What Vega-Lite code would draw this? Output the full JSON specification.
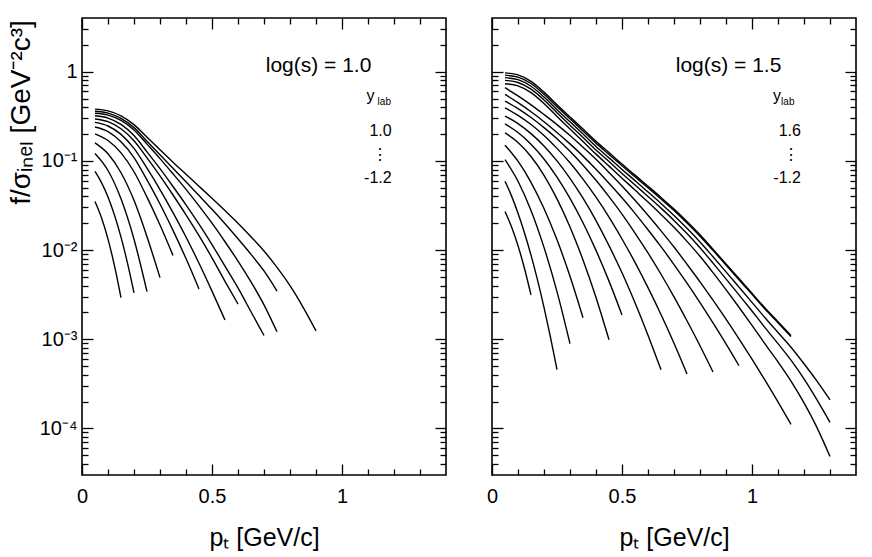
{
  "$schema": "https://vega.github.io/schema/vega-lite/v6.json",
  "padding": {"left": 6, "top": 16, "right": 10, "bottom": 0},
  "spacing": 46,
  "bounds": "flush",
  "config": {
    "view": {"stroke": "black", "strokeWidth": 1.6},
    "axis": {"tickColor": "black", "labelColor": "black", "titleColor": "black", "labelFont": "Liberation Sans", "titleFont": "Liberation Sans", "tickWidth": 1.3, "domain": false, "grid": false, "titleFontWeight": "normal"},
    "text": {"font": "Liberation Sans", "color": "black"}
  },
  "datasets": {
    "curves": [
      {"panel":"L","curve":1,"pt":0.05,"f":0.035},{"panel":"L","curve":1,"pt":0.075,"f":0.023},{"panel":"L","curve":1,"pt":0.1,"f":0.01327},{"panel":"L","curve":1,"pt":0.125,"f":0.00664},{"panel":"L","curve":1,"pt":0.15,"f":0.00292},
      {"panel":"L","curve":2,"pt":0.05,"f":0.076},{"panel":"L","curve":2,"pt":0.075,"f":0.0571},{"panel":"L","curve":2,"pt":0.1,"f":0.0394},{"panel":"L","curve":2,"pt":0.15,"f":0.01396},{"panel":"L","curve":2,"pt":0.175,"f":0.00713},{"panel":"L","curve":2,"pt":0.2,"f":0.00331},
      {"panel":"L","curve":3,"pt":0.05,"f":0.121},{"panel":"L","curve":3,"pt":0.1,"f":0.078},{"panel":"L","curve":3,"pt":0.15,"f":0.0375},{"panel":"L","curve":3,"pt":0.2,"f":0.0132},{"panel":"L","curve":3,"pt":0.25,"f":0.00341},
      {"panel":"L","curve":4,"pt":0.05,"f":0.159},{"panel":"L","curve":4,"pt":0.1,"f":0.12},{"panel":"L","curve":4,"pt":0.15,"f":0.0736},{"panel":"L","curve":4,"pt":0.2,"f":0.0361},{"panel":"L","curve":4,"pt":0.25,"f":0.0141},{"panel":"L","curve":4,"pt":0.3,"f":0.0049},
      {"panel":"L","curve":5,"pt":0.05,"f":0.201},{"panel":"L","curve":5,"pt":0.1,"f":0.169},{"panel":"L","curve":5,"pt":0.15,"f":0.123},{"panel":"L","curve":5,"pt":0.2,"f":0.0755},{"panel":"L","curve":5,"pt":0.25,"f":0.0392},{"panel":"L","curve":5,"pt":0.3,"f":0.0191},{"panel":"L","curve":5,"pt":0.35,"f":0.00871},
      {"panel":"L","curve":6,"pt":0.05,"f":0.24},{"panel":"L","curve":6,"pt":0.1,"f":0.213},{"panel":"L","curve":6,"pt":0.15,"f":0.164},{"panel":"L","curve":6,"pt":0.2,"f":0.109},{"panel":"L","curve":6,"pt":0.25,"f":0.0612},{"panel":"L","curve":6,"pt":0.3,"f":0.0328},{"panel":"L","curve":6,"pt":0.35,"f":0.0166},{"panel":"L","curve":6,"pt":0.4,"f":0.00802},{"panel":"L","curve":6,"pt":0.45,"f":0.00366},
      {"panel":"L","curve":7,"pt":0.05,"f":0.27},{"panel":"L","curve":7,"pt":0.1,"f":0.246},{"panel":"L","curve":7,"pt":0.15,"f":0.198},{"panel":"L","curve":7,"pt":0.2,"f":0.138},{"panel":"L","curve":7,"pt":0.25,"f":0.0828},{"panel":"L","curve":7,"pt":0.3,"f":0.0477},{"panel":"L","curve":7,"pt":0.35,"f":0.0263},{"panel":"L","curve":7,"pt":0.4,"f":0.014},{"panel":"L","curve":7,"pt":0.45,"f":0.00711},{"panel":"L","curve":7,"pt":0.5,"f":0.00346},{"panel":"L","curve":7,"pt":0.55,"f":0.00164},
      {"panel":"L","curve":8,"pt":0.05,"f":0.295},{"panel":"L","curve":8,"pt":0.1,"f":0.275},{"panel":"L","curve":8,"pt":0.15,"f":0.229},{"panel":"L","curve":8,"pt":0.2,"f":0.168},{"panel":"L","curve":8,"pt":0.25,"f":0.108},{"panel":"L","curve":8,"pt":0.3,"f":0.0679},{"panel":"L","curve":8,"pt":0.35,"f":0.0414},{"panel":"L","curve":8,"pt":0.4,"f":0.0248},{"panel":"L","curve":8,"pt":0.45,"f":0.0145},{"panel":"L","curve":8,"pt":0.5,"f":0.00818},{"panel":"L","curve":8,"pt":0.55,"f":0.00446},{"panel":"L","curve":8,"pt":0.6,"f":0.00248},
      {"panel":"L","curve":9,"pt":0.05,"f":0.32},{"panel":"L","curve":9,"pt":0.1,"f":0.302},{"panel":"L","curve":9,"pt":0.15,"f":0.256},{"panel":"L","curve":9,"pt":0.2,"f":0.192},{"panel":"L","curve":9,"pt":0.25,"f":0.126},{"panel":"L","curve":9,"pt":0.3,"f":0.0818},{"panel":"L","curve":9,"pt":0.35,"f":0.0516},{"panel":"L","curve":9,"pt":0.4,"f":0.0321},{"panel":"L","curve":9,"pt":0.45,"f":0.0195},{"panel":"L","curve":9,"pt":0.5,"f":0.01153},{"panel":"L","curve":9,"pt":0.55,"f":0.00659},{"panel":"L","curve":9,"pt":0.6,"f":0.00376},{"panel":"L","curve":9,"pt":0.65,"f":0.00203},{"panel":"L","curve":9,"pt":0.7,"f":0.0011},
      {"panel":"L","curve":10,"pt":0.05,"f":0.342},{"panel":"L","curve":10,"pt":0.1,"f":0.326},{"panel":"L","curve":10,"pt":0.15,"f":0.284},{"panel":"L","curve":10,"pt":0.2,"f":0.222},{"panel":"L","curve":10,"pt":0.25,"f":0.154},{"panel":"L","curve":10,"pt":0.3,"f":0.106},{"panel":"L","curve":10,"pt":0.35,"f":0.0716},{"panel":"L","curve":10,"pt":0.4,"f":0.0479},{"panel":"L","curve":10,"pt":0.45,"f":0.0313},{"panel":"L","curve":10,"pt":0.5,"f":0.02},{"panel":"L","curve":10,"pt":0.55,"f":0.01239},{"panel":"L","curve":10,"pt":0.6,"f":0.00752},{"panel":"L","curve":10,"pt":0.65,"f":0.00439},{"panel":"L","curve":10,"pt":0.7,"f":0.00243},{"panel":"L","curve":10,"pt":0.75,"f":0.00121},
      {"panel":"L","curve":11,"pt":0.05,"f":0.36},{"panel":"L","curve":11,"pt":0.1,"f":0.343},{"panel":"L","curve":11,"pt":0.15,"f":0.299},{"panel":"L","curve":11,"pt":0.2,"f":0.236},{"panel":"L","curve":11,"pt":0.25,"f":0.166},{"panel":"L","curve":11,"pt":0.3,"f":0.117},{"panel":"L","curve":11,"pt":0.35,"f":0.0824},{"panel":"L","curve":11,"pt":0.4,"f":0.0582},{"panel":"L","curve":11,"pt":0.45,"f":0.0409},{"panel":"L","curve":11,"pt":0.5,"f":0.0286},{"panel":"L","curve":11,"pt":0.55,"f":0.0197},{"panel":"L","curve":11,"pt":0.6,"f":0.01337},{"panel":"L","curve":11,"pt":0.65,"f":0.00895},{"panel":"L","curve":11,"pt":0.7,"f":0.00583},{"panel":"L","curve":11,"pt":0.75,"f":0.00347},
      {"panel":"L","curve":12,"pt":0.05,"f":0.38},{"panel":"L","curve":12,"pt":0.1,"f":0.363},{"panel":"L","curve":12,"pt":0.15,"f":0.32},{"panel":"L","curve":12,"pt":0.2,"f":0.255},{"panel":"L","curve":12,"pt":0.25,"f":0.184},{"panel":"L","curve":12,"pt":0.3,"f":0.133},{"panel":"L","curve":12,"pt":0.35,"f":0.0966},{"panel":"L","curve":12,"pt":0.4,"f":0.0708},{"panel":"L","curve":12,"pt":0.45,"f":0.0519},{"panel":"L","curve":12,"pt":0.5,"f":0.038},{"panel":"L","curve":12,"pt":0.55,"f":0.0277},{"panel":"L","curve":12,"pt":0.6,"f":0.02},{"panel":"L","curve":12,"pt":0.65,"f":0.0141},{"panel":"L","curve":12,"pt":0.7,"f":0.00977},{"panel":"L","curve":12,"pt":0.75,"f":0.00638},{"panel":"L","curve":12,"pt":0.8,"f":0.00398},{"panel":"L","curve":12,"pt":0.85,"f":0.00229},{"panel":"L","curve":12,"pt":0.9,"f":0.00124},

      {"panel":"R","curve":1,"pt":0.05,"f":0.0271},{"panel":"R","curve":1,"pt":0.075,"f":0.0183},{"panel":"R","curve":1,"pt":0.1,"f":0.0112},{"panel":"R","curve":1,"pt":0.125,"f":0.00621},{"panel":"R","curve":1,"pt":0.15,"f":0.00313},
      {"panel":"R","curve":2,"pt":0.05,"f":0.059},{"panel":"R","curve":2,"pt":0.075,"f":0.0405},{"panel":"R","curve":2,"pt":0.1,"f":0.0259},{"panel":"R","curve":2,"pt":0.15,"f":0.00877},{"panel":"R","curve":2,"pt":0.2,"f":0.00228},{"panel":"R","curve":2,"pt":0.225,"f":0.00105},{"panel":"R","curve":2,"pt":0.25,"f":0.000457},
      {"panel":"R","curve":3,"pt":0.05,"f":0.103},{"panel":"R","curve":3,"pt":0.1,"f":0.059},{"panel":"R","curve":3,"pt":0.15,"f":0.0278},{"panel":"R","curve":3,"pt":0.2,"f":0.0107},{"panel":"R","curve":3,"pt":0.25,"f":0.00342},{"panel":"R","curve":3,"pt":0.3,"f":0.000891},
      {"panel":"R","curve":4,"pt":0.05,"f":0.15},{"panel":"R","curve":4,"pt":0.1,"f":0.0991},{"panel":"R","curve":4,"pt":0.15,"f":0.0575},{"panel":"R","curve":4,"pt":0.2,"f":0.0292},{"panel":"R","curve":4,"pt":0.25,"f":0.013},{"panel":"R","curve":4,"pt":0.3,"f":0.00508},{"panel":"R","curve":4,"pt":0.35,"f":0.00174},
      {"panel":"R","curve":5,"pt":0.05,"f":0.206},{"panel":"R","curve":5,"pt":0.1,"f":0.161},{"panel":"R","curve":5,"pt":0.15,"f":0.112},{"panel":"R","curve":5,"pt":0.2,"f":0.0689},{"panel":"R","curve":5,"pt":0.25,"f":0.0375},{"panel":"R","curve":5,"pt":0.3,"f":0.0181},{"panel":"R","curve":5,"pt":0.35,"f":0.00774},{"panel":"R","curve":5,"pt":0.4,"f":0.00294},{"panel":"R","curve":5,"pt":0.45,"f":0.000986},
      {"panel":"R","curve":6,"pt":0.05,"f":0.26},{"panel":"R","curve":6,"pt":0.1,"f":0.208},{"panel":"R","curve":6,"pt":0.15,"f":0.154},{"panel":"R","curve":6,"pt":0.2,"f":0.105},{"panel":"R","curve":6,"pt":0.25,"f":0.0656},{"panel":"R","curve":6,"pt":0.3,"f":0.0379},{"panel":"R","curve":6,"pt":0.35,"f":0.0202},{"panel":"R","curve":6,"pt":0.4,"f":0.00991},{"panel":"R","curve":6,"pt":0.45,"f":0.00448},{"panel":"R","curve":6,"pt":0.5,"f":0.00187},
      {"panel":"R","curve":7,"pt":0.05,"f":0.318},{"panel":"R","curve":7,"pt":0.1,"f":0.262},{"panel":"R","curve":7,"pt":0.15,"f":0.202},{"panel":"R","curve":7,"pt":0.2,"f":0.147},{"panel":"R","curve":7,"pt":0.25,"f":0.0998},{"panel":"R","curve":7,"pt":0.3,"f":0.0637},{"panel":"R","curve":7,"pt":0.35,"f":0.0381},{"panel":"R","curve":7,"pt":0.4,"f":0.0214},{"panel":"R","curve":7,"pt":0.45,"f":0.0112},{"panel":"R","curve":7,"pt":0.5,"f":0.00555},{"panel":"R","curve":7,"pt":0.55,"f":0.00256},{"panel":"R","curve":7,"pt":0.6,"f":0.00111},{"panel":"R","curve":7,"pt":0.65,"f":0.000454},
      {"panel":"R","curve":8,"pt":0.05,"f":0.394},{"panel":"R","curve":8,"pt":0.1,"f":0.324},{"panel":"R","curve":8,"pt":0.15,"f":0.256},{"panel":"R","curve":8,"pt":0.2,"f":0.193},{"panel":"R","curve":8,"pt":0.25,"f":0.138},{"panel":"R","curve":8,"pt":0.3,"f":0.0951},{"panel":"R","curve":8,"pt":0.35,"f":0.0624},{"panel":"R","curve":8,"pt":0.4,"f":0.0391},{"panel":"R","curve":8,"pt":0.45,"f":0.0234},{"panel":"R","curve":8,"pt":0.5,"f":0.0133},{"panel":"R","curve":8,"pt":0.55,"f":0.00728},{"panel":"R","curve":8,"pt":0.6,"f":0.00379},{"panel":"R","curve":8,"pt":0.65,"f":0.00189},{"panel":"R","curve":8,"pt":0.7,"f":0.000899},{"panel":"R","curve":8,"pt":0.75,"f":0.000408},
      {"panel":"R","curve":9,"pt":0.05,"f":0.468},{"panel":"R","curve":9,"pt":0.1,"f":0.385},{"panel":"R","curve":9,"pt":0.15,"f":0.306},{"panel":"R","curve":9,"pt":0.2,"f":0.236},{"panel":"R","curve":9,"pt":0.25,"f":0.177},{"panel":"R","curve":9,"pt":0.3,"f":0.128},{"panel":"R","curve":9,"pt":0.35,"f":0.0893},{"panel":"R","curve":9,"pt":0.4,"f":0.0605},{"panel":"R","curve":9,"pt":0.45,"f":0.0397},{"panel":"R","curve":9,"pt":0.5,"f":0.0253},{"panel":"R","curve":9,"pt":0.55,"f":0.0155},{"panel":"R","curve":9,"pt":0.6,"f":0.00927},{"panel":"R","curve":9,"pt":0.65,"f":0.00535},{"panel":"R","curve":9,"pt":0.7,"f":0.00299},{"panel":"R","curve":9,"pt":0.75,"f":0.00161},{"panel":"R","curve":9,"pt":0.8,"f":0.000845},{"panel":"R","curve":9,"pt":0.85,"f":0.000429},
      {"panel":"R","curve":10,"pt":0.05,"f":0.557},{"panel":"R","curve":10,"pt":0.1,"f":0.449},{"panel":"R","curve":10,"pt":0.15,"f":0.355},{"panel":"R","curve":10,"pt":0.2,"f":0.275},{"panel":"R","curve":10,"pt":0.25,"f":0.208},{"panel":"R","curve":10,"pt":0.3,"f":0.155},{"panel":"R","curve":10,"pt":0.35,"f":0.113},{"panel":"R","curve":10,"pt":0.4,"f":0.0804},{"panel":"R","curve":10,"pt":0.45,"f":0.0561},{"panel":"R","curve":10,"pt":0.5,"f":0.0385},{"panel":"R","curve":10,"pt":0.55,"f":0.0258},{"panel":"R","curve":10,"pt":0.6,"f":0.0169},{"panel":"R","curve":10,"pt":0.65,"f":0.0109},{"panel":"R","curve":10,"pt":0.7,"f":0.00687},{"panel":"R","curve":10,"pt":0.75,"f":0.00425},{"panel":"R","curve":10,"pt":0.8,"f":0.00257},{"panel":"R","curve":10,"pt":0.85,"f":0.00152},{"panel":"R","curve":10,"pt":0.9,"f":0.000885},{"panel":"R","curve":10,"pt":0.95,"f":0.000504},
      {"panel":"R","curve":11,"pt":0.05,"f":0.661},{"panel":"R","curve":11,"pt":0.1,"f":0.535},{"panel":"R","curve":11,"pt":0.15,"f":0.425},{"panel":"R","curve":11,"pt":0.2,"f":0.331},{"panel":"R","curve":11,"pt":0.25,"f":0.255},{"panel":"R","curve":11,"pt":0.3,"f":0.192},{"panel":"R","curve":11,"pt":0.35,"f":0.142},{"panel":"R","curve":11,"pt":0.4,"f":0.104},{"panel":"R","curve":11,"pt":0.45,"f":0.0741},{"panel":"R","curve":11,"pt":0.5,"f":0.0522},{"panel":"R","curve":11,"pt":0.55,"f":0.0361},{"panel":"R","curve":11,"pt":0.6,"f":0.0245},{"panel":"R","curve":11,"pt":0.65,"f":0.0164},{"panel":"R","curve":11,"pt":0.7,"f":0.0108},{"panel":"R","curve":11,"pt":0.75,"f":0.00693},{"panel":"R","curve":11,"pt":0.8,"f":0.0044},{"panel":"R","curve":11,"pt":0.85,"f":0.00274},{"panel":"R","curve":11,"pt":0.9,"f":0.00168},{"panel":"R","curve":11,"pt":0.95,"f":0.00101},{"panel":"R","curve":11,"pt":1.0,"f":0.000597},{"panel":"R","curve":11,"pt":1.05,"f":0.000347},{"panel":"R","curve":11,"pt":1.1,"f":0.000198},{"panel":"R","curve":11,"pt":1.15,"f":0.000111},
      {"panel":"R","curve":12,"pt":0.05,"f":0.733},{"panel":"R","curve":12,"pt":0.1,"f":0.692},{"panel":"R","curve":12,"pt":0.15,"f":0.583},{"panel":"R","curve":12,"pt":0.2,"f":0.44},{"panel":"R","curve":12,"pt":0.25,"f":0.315},{"panel":"R","curve":12,"pt":0.3,"f":0.228},{"panel":"R","curve":12,"pt":0.35,"f":0.165},{"panel":"R","curve":12,"pt":0.4,"f":0.119},{"panel":"R","curve":12,"pt":0.45,"f":0.0873},{"panel":"R","curve":12,"pt":0.5,"f":0.064},{"panel":"R","curve":12,"pt":0.55,"f":0.047},{"panel":"R","curve":12,"pt":0.6,"f":0.0345},{"panel":"R","curve":12,"pt":0.65,"f":0.0251},{"panel":"R","curve":12,"pt":0.7,"f":0.018},{"panel":"R","curve":12,"pt":0.75,"f":0.0125},{"panel":"R","curve":12,"pt":0.8,"f":0.00851},{"panel":"R","curve":12,"pt":0.85,"f":0.00558},{"panel":"R","curve":12,"pt":0.9,"f":0.00359},{"panel":"R","curve":12,"pt":0.95,"f":0.00228},{"panel":"R","curve":12,"pt":1.0,"f":0.00143},{"panel":"R","curve":12,"pt":1.05,"f":0.000885},{"panel":"R","curve":12,"pt":1.1,"f":0.000556},{"panel":"R","curve":12,"pt":1.15,"f":0.000339},{"panel":"R","curve":12,"pt":1.2,"f":0.000193},{"panel":"R","curve":12,"pt":1.25,"f":0.000102},{"panel":"R","curve":12,"pt":1.3,"f":0.0000484},
      {"panel":"R","curve":13,"pt":0.05,"f":0.8},{"panel":"R","curve":13,"pt":0.1,"f":0.757},{"panel":"R","curve":13,"pt":0.15,"f":0.638},{"panel":"R","curve":13,"pt":0.2,"f":0.482},{"panel":"R","curve":13,"pt":0.25,"f":0.347},{"panel":"R","curve":13,"pt":0.3,"f":0.251},{"panel":"R","curve":13,"pt":0.35,"f":0.183},{"panel":"R","curve":13,"pt":0.4,"f":0.132},{"panel":"R","curve":13,"pt":0.45,"f":0.0982},{"panel":"R","curve":13,"pt":0.5,"f":0.0723},{"panel":"R","curve":13,"pt":0.55,"f":0.0537},{"panel":"R","curve":13,"pt":0.6,"f":0.0399},{"panel":"R","curve":13,"pt":0.65,"f":0.0295},{"panel":"R","curve":13,"pt":0.7,"f":0.0215},{"panel":"R","curve":13,"pt":0.75,"f":0.0153},{"panel":"R","curve":13,"pt":0.8,"f":0.0106},{"panel":"R","curve":13,"pt":0.85,"f":0.00714},{"panel":"R","curve":13,"pt":0.9,"f":0.00475},{"panel":"R","curve":13,"pt":0.95,"f":0.00314},{"panel":"R","curve":13,"pt":1.0,"f":0.00207},{"panel":"R","curve":13,"pt":1.05,"f":0.00135},{"panel":"R","curve":13,"pt":1.1,"f":0.000891},{"panel":"R","curve":13,"pt":1.15,"f":0.000582},{"panel":"R","curve":13,"pt":1.2,"f":0.000359},{"panel":"R","curve":13,"pt":1.25,"f":0.000209},{"panel":"R","curve":13,"pt":1.3,"f":0.000117},
      {"panel":"R","curve":14,"pt":0.05,"f":0.857},{"panel":"R","curve":14,"pt":0.1,"f":0.813},{"panel":"R","curve":14,"pt":0.15,"f":0.687},{"panel":"R","curve":14,"pt":0.2,"f":0.52},{"panel":"R","curve":14,"pt":0.25,"f":0.375},{"panel":"R","curve":14,"pt":0.3,"f":0.274},{"panel":"R","curve":14,"pt":0.35,"f":0.2},{"panel":"R","curve":14,"pt":0.4,"f":0.145},{"panel":"R","curve":14,"pt":0.45,"f":0.108},{"panel":"R","curve":14,"pt":0.5,"f":0.0802},{"panel":"R","curve":14,"pt":0.55,"f":0.06},{"panel":"R","curve":14,"pt":0.6,"f":0.0448},{"panel":"R","curve":14,"pt":0.65,"f":0.0333},{"panel":"R","curve":14,"pt":0.7,"f":0.0244},{"panel":"R","curve":14,"pt":0.75,"f":0.0175},{"panel":"R","curve":14,"pt":0.8,"f":0.0123},{"panel":"R","curve":14,"pt":0.85,"f":0.00841},{"panel":"R","curve":14,"pt":0.9,"f":0.00569},{"panel":"R","curve":14,"pt":0.95,"f":0.00384},{"panel":"R","curve":14,"pt":1.0,"f":0.00259},{"panel":"R","curve":14,"pt":1.05,"f":0.00174},{"panel":"R","curve":14,"pt":1.1,"f":0.00119},{"panel":"R","curve":14,"pt":1.15,"f":0.000813},{"panel":"R","curve":14,"pt":1.2,"f":0.000531},{"panel":"R","curve":14,"pt":1.25,"f":0.000339},{"panel":"R","curve":14,"pt":1.3,"f":0.000209},
      {"panel":"R","curve":15,"pt":0.05,"f":0.914},{"panel":"R","curve":15,"pt":0.1,"f":0.869},{"panel":"R","curve":15,"pt":0.15,"f":0.737},{"panel":"R","curve":15,"pt":0.2,"f":0.558},{"panel":"R","curve":15,"pt":0.25,"f":0.405},{"panel":"R","curve":15,"pt":0.3,"f":0.296},{"panel":"R","curve":15,"pt":0.35,"f":0.216},{"panel":"R","curve":15,"pt":0.4,"f":0.158},{"panel":"R","curve":15,"pt":0.45,"f":0.118},{"panel":"R","curve":15,"pt":0.5,"f":0.088},{"panel":"R","curve":15,"pt":0.55,"f":0.0662},{"panel":"R","curve":15,"pt":0.6,"f":0.0499},{"panel":"R","curve":15,"pt":0.65,"f":0.0374},{"panel":"R","curve":15,"pt":0.7,"f":0.0278},{"panel":"R","curve":15,"pt":0.75,"f":0.0201},{"panel":"R","curve":15,"pt":0.8,"f":0.0143},{"panel":"R","curve":15,"pt":0.85,"f":0.00991},{"panel":"R","curve":15,"pt":0.9,"f":0.00678},{"panel":"R","curve":15,"pt":0.95,"f":0.00465},{"panel":"R","curve":15,"pt":1.0,"f":0.00318},{"panel":"R","curve":15,"pt":1.05,"f":0.00218},{"panel":"R","curve":15,"pt":1.1,"f":0.00153},{"panel":"R","curve":15,"pt":1.15,"f":0.00107},
      {"panel":"R","curve":16,"pt":0.05,"f":0.97},{"panel":"R","curve":16,"pt":0.1,"f":0.92},{"panel":"R","curve":16,"pt":0.15,"f":0.78},{"panel":"R","curve":16,"pt":0.2,"f":0.59},{"panel":"R","curve":16,"pt":0.25,"f":0.427},{"panel":"R","curve":16,"pt":0.3,"f":0.311},{"panel":"R","curve":16,"pt":0.35,"f":0.228},{"panel":"R","curve":16,"pt":0.4,"f":0.166},{"panel":"R","curve":16,"pt":0.45,"f":0.124},{"panel":"R","curve":16,"pt":0.5,"f":0.092},{"panel":"R","curve":16,"pt":0.55,"f":0.0692},{"panel":"R","curve":16,"pt":0.6,"f":0.052},{"panel":"R","curve":16,"pt":0.65,"f":0.0389},{"panel":"R","curve":16,"pt":0.7,"f":0.0288},{"panel":"R","curve":16,"pt":0.75,"f":0.0209},{"panel":"R","curve":16,"pt":0.8,"f":0.0148},{"panel":"R","curve":16,"pt":0.85,"f":0.0102},{"panel":"R","curve":16,"pt":0.9,"f":0.007},{"panel":"R","curve":16,"pt":0.95,"f":0.00479},{"panel":"R","curve":16,"pt":1.0,"f":0.00327},{"panel":"R","curve":16,"pt":1.05,"f":0.00224},{"panel":"R","curve":16,"pt":1.1,"f":0.00157},{"panel":"R","curve":16,"pt":1.15,"f":0.0011}
    ],
    "notes": [
      {"panel":"L","kind":"big","x":1.113,"y":1.0,"label":"log(s) = 1.0"},
      {"panel":"L","kind":"mid","x":1.11,"y":0.535,"label":"y"},
      {"panel":"L","kind":"sub","x":1.137,"y":0.423,"label":"lab"},
      {"panel":"L","kind":"num","x":1.191,"y":0.216,"label":"1.0"},
      {"panel":"L","kind":"mid","x":1.146,"y":0.116,"label":"⋮"},
      {"panel":"L","kind":"num","x":1.191,"y":0.0643,"label":"-1.2"},
      {"panel":"R","kind":"big","x":1.113,"y":1.0,"label":"log(s) = 1.5"},
      {"panel":"R","kind":"mid","x":1.096,"y":0.535,"label":"y"},
      {"panel":"R","kind":"sub","x":1.112,"y":0.423,"label":"lab"},
      {"panel":"R","kind":"num","x":1.188,"y":0.216,"label":"1.6"},
      {"panel":"R","kind":"mid","x":1.15,"y":0.116,"label":"⋮"},
      {"panel":"R","kind":"num","x":1.188,"y":0.0643,"label":"-1.2"}
    ]
  },
  "hconcat": [
    {
      "width": 364,
      "height": 457,
      "resolve": {"axis": {"x": "independent", "y": "independent"}},
      "layer": [
        {
          "data": {"name": "curves"},
          "transform": [{"filter": "datum.panel == 'L'"}],
          "mark": {"type": "line", "color": "black", "strokeWidth": 1.4, "interpolate": "monotone"},
          "encoding": {
            "x": {"field": "pt", "type": "quantitative", "scale": {"domain": [0, 1.4], "nice": false, "zero": false},
                  "axis": {"orient": "bottom", "values": [0, 0.5, 1], "format": "~g", "tickSize": -11, "labelFontSize": 20, "labelPadding": 22, "labelFlush": false, "title": "pₜ [GeV/c]", "titleFontSize": 25, "titlePadding": 19}},
            "y": {"field": "f", "type": "quantitative", "scale": {"type": "log", "domain": [0.00003, 4], "nice": false},
                  "axis": {"orient": "left", "values": [0.0001, 0.001, 0.01, 0.1, 1], "tickSize": -11, "labelFontSize": 20, "labelPadding": 16,
                           "labelExpr": "datum.value > 0.5 ? '1' : datum.value > 0.05 ? '10⁻¹' : datum.value > 0.005 ? '10⁻²' : datum.value > 0.0005 ? '10⁻³' : '10⁻⁴'",
                           "title": "f/σᵢₙₑₗ [GeV⁻²c³]", "titleFontSize": 28, "titlePadding": 4, "titleY": 94}},
            "detail": {"field": "curve", "type": "nominal"}
          }
        },
        {
          "data": {"name": "notes"},
          "transform": [{"filter": "datum.panel == 'L' && datum.kind == 'big'"}],
          "mark": {"type": "text", "fontSize": 21, "align": "right", "baseline": "alphabetic"},
          "encoding": {
            "x": {"field": "x", "type": "quantitative", "scale": {"domain": [0, 1.4], "nice": false, "zero": false},
                  "axis": {"orient": "bottom", "values": [0.1, 0.2, 0.3, 0.4, 0.6, 0.7, 0.8, 0.9, 1.1, 1.2, 1.3], "tickSize": -6, "labels": false, "title": null}},
            "y": {"field": "y", "type": "quantitative", "scale": {"type": "log", "domain": [0.00003, 4], "nice": false},
                  "axis": {"orient": "left", "values": [0.00004, 0.00005, 0.00006, 0.00007, 0.00008, 0.00009, 0.0002, 0.0003, 0.0004, 0.0005, 0.0006, 0.0007, 0.0008, 0.0009, 0.002, 0.003, 0.004, 0.005, 0.006, 0.007, 0.008, 0.009, 0.02, 0.03, 0.04, 0.05, 0.06, 0.07, 0.08, 0.09, 0.2, 0.3, 0.4, 0.5, 0.6, 0.7, 0.8, 0.9, 2, 3], "tickSize": -6, "labels": false, "title": null}},
            "text": {"field": "label"}
          }
        },
        {
          "data": {"name": "notes"},
          "transform": [{"filter": "datum.panel == 'L' && datum.kind == 'num'"}],
          "mark": {"type": "text", "fontSize": 16, "align": "right", "baseline": "middle"},
          "encoding": {
            "x": {"field": "x", "type": "quantitative", "scale": {"domain": [0, 1.4], "nice": false, "zero": false},
                  "axis": {"orient": "top", "values": [0, 0.5, 1], "tickSize": -11, "labels": false, "title": null}},
            "y": {"field": "y", "type": "quantitative", "scale": {"type": "log", "domain": [0.00003, 4], "nice": false},
                  "axis": {"orient": "right", "values": [0.0001, 0.001, 0.01, 0.1, 1], "tickSize": -11, "labels": false, "title": null}},
            "text": {"field": "label"}
          }
        },
        {
          "data": {"name": "notes"},
          "transform": [{"filter": "datum.panel == 'L' && datum.kind == 'mid'"}],
          "mark": {"type": "text", "fontSize": 16, "align": "center", "baseline": "middle"},
          "encoding": {
            "x": {"field": "x", "type": "quantitative", "scale": {"domain": [0, 1.4], "nice": false, "zero": false},
                  "axis": {"orient": "top", "values": [0.1, 0.2, 0.3, 0.4, 0.6, 0.7, 0.8, 0.9, 1.1, 1.2, 1.3], "tickSize": -6, "labels": false, "title": null}},
            "y": {"field": "y", "type": "quantitative", "scale": {"type": "log", "domain": [0.00003, 4], "nice": false},
                  "axis": {"orient": "right", "values": [0.00004, 0.00005, 0.00006, 0.00007, 0.00008, 0.00009, 0.0002, 0.0003, 0.0004, 0.0005, 0.0006, 0.0007, 0.0008, 0.0009, 0.002, 0.003, 0.004, 0.005, 0.006, 0.007, 0.008, 0.009, 0.02, 0.03, 0.04, 0.05, 0.06, 0.07, 0.08, 0.09, 0.2, 0.3, 0.4, 0.5, 0.6, 0.7, 0.8, 0.9, 2, 3], "tickSize": -6, "labels": false, "title": null}},
            "text": {"field": "label"}
          }
        },
        {
          "data": {"name": "notes"},
          "transform": [{"filter": "datum.panel == 'L' && datum.kind == 'sub'"}],
          "mark": {"type": "text", "fontSize": 10, "align": "left", "baseline": "alphabetic"},
          "encoding": {
            "x": {"field": "x", "type": "quantitative", "scale": {"domain": [0, 1.4], "nice": false, "zero": false}, "axis": null},
            "y": {"field": "y", "type": "quantitative", "scale": {"type": "log", "domain": [0.00003, 4], "nice": false}, "axis": null},
            "text": {"field": "label"}
          }
        }
      ]
    },
    {
      "width": 364,
      "height": 457,
      "resolve": {"axis": {"x": "independent", "y": "independent"}},
      "layer": [
        {
          "data": {"name": "curves"},
          "transform": [{"filter": "datum.panel == 'R'"}],
          "mark": {"type": "line", "color": "black", "strokeWidth": 1.4, "interpolate": "monotone"},
          "encoding": {
            "x": {"field": "pt", "type": "quantitative", "scale": {"domain": [0, 1.4], "nice": false, "zero": false},
                  "axis": {"orient": "bottom", "values": [0, 0.5, 1], "format": "~g", "tickSize": -11, "labelFontSize": 20, "labelPadding": 22, "labelFlush": false, "title": "pₜ [GeV/c]", "titleFontSize": 25, "titlePadding": 19}},
            "y": {"field": "f", "type": "quantitative", "scale": {"type": "log", "domain": [0.00003, 4], "nice": false},
                  "axis": {"orient": "left", "values": [0.0001, 0.001, 0.01, 0.1, 1], "tickSize": -11, "labels": false, "title": null}},
            "detail": {"field": "curve", "type": "nominal"}
          }
        },
        {
          "data": {"name": "notes"},
          "transform": [{"filter": "datum.panel == 'R' && datum.kind == 'big'"}],
          "mark": {"type": "text", "fontSize": 21, "align": "right", "baseline": "alphabetic"},
          "encoding": {
            "x": {"field": "x", "type": "quantitative", "scale": {"domain": [0, 1.4], "nice": false, "zero": false},
                  "axis": {"orient": "bottom", "values": [0.1, 0.2, 0.3, 0.4, 0.6, 0.7, 0.8, 0.9, 1.1, 1.2, 1.3], "tickSize": -6, "labels": false, "title": null}},
            "y": {"field": "y", "type": "quantitative", "scale": {"type": "log", "domain": [0.00003, 4], "nice": false},
                  "axis": {"orient": "left", "values": [0.00004, 0.00005, 0.00006, 0.00007, 0.00008, 0.00009, 0.0002, 0.0003, 0.0004, 0.0005, 0.0006, 0.0007, 0.0008, 0.0009, 0.002, 0.003, 0.004, 0.005, 0.006, 0.007, 0.008, 0.009, 0.02, 0.03, 0.04, 0.05, 0.06, 0.07, 0.08, 0.09, 0.2, 0.3, 0.4, 0.5, 0.6, 0.7, 0.8, 0.9, 2, 3], "tickSize": -6, "labels": false, "title": null}},
            "text": {"field": "label"}
          }
        },
        {
          "data": {"name": "notes"},
          "transform": [{"filter": "datum.panel == 'R' && datum.kind == 'num'"}],
          "mark": {"type": "text", "fontSize": 16, "align": "right", "baseline": "middle"},
          "encoding": {
            "x": {"field": "x", "type": "quantitative", "scale": {"domain": [0, 1.4], "nice": false, "zero": false},
                  "axis": {"orient": "top", "values": [0, 0.5, 1], "tickSize": -11, "labels": false, "title": null}},
            "y": {"field": "y", "type": "quantitative", "scale": {"type": "log", "domain": [0.00003, 4], "nice": false},
                  "axis": {"orient": "right", "values": [0.0001, 0.001, 0.01, 0.1, 1], "tickSize": -11, "labels": false, "title": null}},
            "text": {"field": "label"}
          }
        },
        {
          "data": {"name": "notes"},
          "transform": [{"filter": "datum.panel == 'R' && datum.kind == 'mid'"}],
          "mark": {"type": "text", "fontSize": 16, "align": "center", "baseline": "middle"},
          "encoding": {
            "x": {"field": "x", "type": "quantitative", "scale": {"domain": [0, 1.4], "nice": false, "zero": false},
                  "axis": {"orient": "top", "values": [0.1, 0.2, 0.3, 0.4, 0.6, 0.7, 0.8, 0.9, 1.1, 1.2, 1.3], "tickSize": -6, "labels": false, "title": null}},
            "y": {"field": "y", "type": "quantitative", "scale": {"type": "log", "domain": [0.00003, 4], "nice": false},
                  "axis": {"orient": "right", "values": [0.00004, 0.00005, 0.00006, 0.00007, 0.00008, 0.00009, 0.0002, 0.0003, 0.0004, 0.0005, 0.0006, 0.0007, 0.0008, 0.0009, 0.002, 0.003, 0.004, 0.005, 0.006, 0.007, 0.008, 0.009, 0.02, 0.03, 0.04, 0.05, 0.06, 0.07, 0.08, 0.09, 0.2, 0.3, 0.4, 0.5, 0.6, 0.7, 0.8, 0.9, 2, 3], "tickSize": -6, "labels": false, "title": null}},
            "text": {"field": "label"}
          }
        },
        {
          "data": {"name": "notes"},
          "transform": [{"filter": "datum.panel == 'R' && datum.kind == 'sub'"}],
          "mark": {"type": "text", "fontSize": 10, "align": "left", "baseline": "alphabetic"},
          "encoding": {
            "x": {"field": "x", "type": "quantitative", "scale": {"domain": [0, 1.4], "nice": false, "zero": false}, "axis": null},
            "y": {"field": "y", "type": "quantitative", "scale": {"type": "log", "domain": [0.00003, 4], "nice": false}, "axis": null},
            "text": {"field": "label"}
          }
        }
      ]
    }
  ]
}
